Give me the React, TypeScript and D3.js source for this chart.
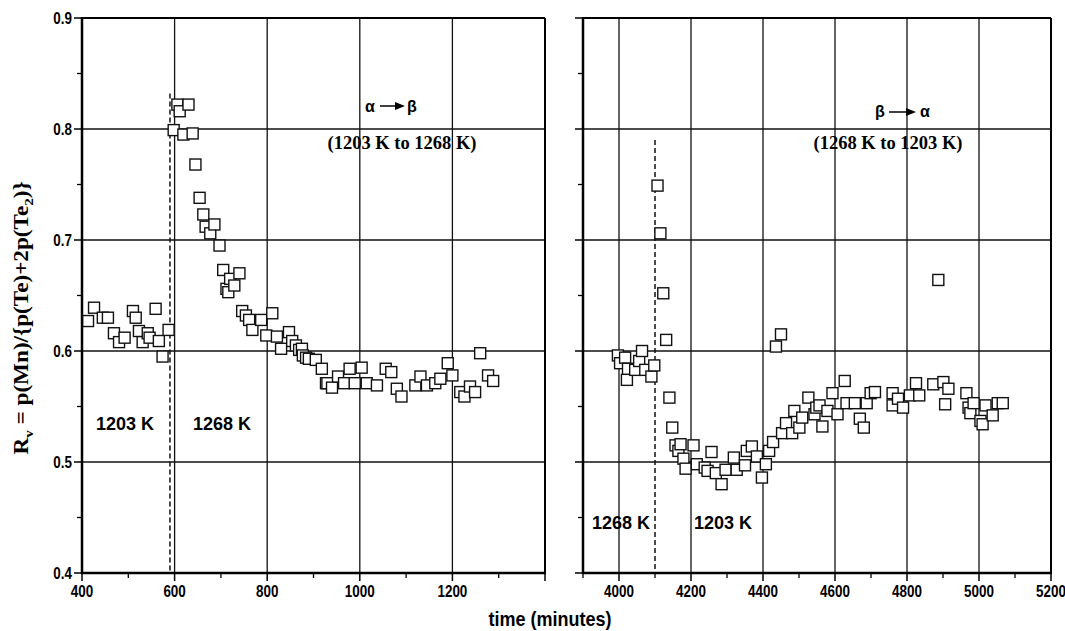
import React from "react";
import * as d3 from "d3";

// ---------- data ----------
const leftTime = [413,426,445,456,469,480,492,510,516,523,531,542,546,559,566,574,587,
598,606,611,619,630,639,645,654,662,667,677,686,697,705,712,716,720,729,740,746,754,761,768,787,798,811,821,830,847,854,862,869,875,877,884,890,905,918,927,930,940,953,966,978,989,1004,1015,1037,1056,1068,1080,1090,1120,1131,1145,1163,1174,1190,1200,1217,1226,1238,1249,1260,1277,1288];
const leftRv = [0.627,0.639,0.630,0.630,0.616,0.608,0.612,0.636,0.630,0.618,0.608,0.616,0.612,0.638,0.609,0.595,0.619,
0.799,0.822,0.816,0.795,0.822,0.796,0.768,0.738,0.723,0.712,0.706,0.714,0.695,0.673,0.656,0.653,0.665,0.659,0.670,0.636,0.632,0.628,0.619,0.628,0.614,0.634,0.613,0.602,0.617,0.609,0.605,0.601,0.602,0.596,0.594,0.593,0.592,0.584,0.571,0.571,0.567,0.577,0.571,0.584,0.571,0.585,0.571,0.569,0.584,0.581,0.566,0.559,0.569,0.577,0.569,0.571,0.575,0.589,0.578,0.563,0.559,0.568,0.563,0.598,0.578,0.573];

const rightTime = [3997,4003,4017,4022,4025,4045,4056,4064,4073,4090,4098,4107,4115,4123,4131,4140,4148,4157,4165,4171,4179,4185,4207,4216,4238,4246,4257,4269,4285,4296,4319,4327,4350,4355,4369,4383,4397,4408,4417,4428,4436,4450,4453,4464,4481,4487,4501,4509,4526,4543,4548,4557,4565,4579,4593,4607,4627,4632,4655,4669,4680,4688,4699,4711,4760,4760,4775,4789,4808,4825,4834,4873,4887,4901,4906,4915,4965,4971,4976,4985,5004,5010,5018,5038,5052,5066];
const rightRv = [0.596,0.589,0.594,0.574,0.584,0.583,0.591,0.600,0.583,0.577,0.587,0.749,0.706,0.652,0.610,0.558,0.531,0.515,0.510,0.516,0.503,0.494,0.515,0.498,0.495,0.492,0.509,0.490,0.480,0.493,0.504,0.493,0.497,0.510,0.514,0.505,0.486,0.498,0.510,0.518,0.604,0.615,0.526,0.535,0.526,0.546,0.531,0.540,0.558,0.543,0.549,0.551,0.532,0.546,0.562,0.543,0.573,0.553,0.553,0.539,0.531,0.553,0.562,0.563,0.562,0.551,0.557,0.549,0.560,0.571,0.560,0.570,0.664,0.572,0.552,0.566,0.562,0.549,0.544,0.553,0.537,0.534,0.551,0.542,0.553,0.553];

const leftDomain = [400, 1400];
const rightDomain = [3900, 5200];
const yDomain = [0.4, 0.9];
const leftTickLabels = [400, 600, 800, 1000, 1200];
const rightTickLabels = [4000, 4200, 4400, 4600, 4800, 5000, 5200];
const yTickLabels = [0.4, 0.5, 0.6, 0.7, 0.8, 0.9];
const leftDashed = { t: 590, top: 0.832 };
const rightDashed = { t: 4100, top: 0.79 };

const W = 1065, H = 631;
const TOP = 18, BOTTOM = 573;
const sans = "'Liberation Sans',Arial,sans-serif";
const serif = "'Liberation Serif','Times New Roman',serif";

const y = d3.scaleLinear().domain(yDomain).range([BOTTOM, TOP]);

function NText({ x, y: yy, anchor, size, children, sx = 0.84 }) {
  return (
    <text transform={`translate(${x},${yy}) scale(${sx},1)`} textAnchor={anchor} fontFamily={sans} fontWeight="bold" fontSize={size} fill="#000">
      {children}
    </text>
  );
}

function Panel({ domain, range, times, vals, labels, showY, dashed }) {
  const x = d3.scaleLinear().domain(domain).range(range);
  const [x0, x1] = range;
  const majorX = d3.range(Math.ceil(domain[0] / 200) * 200, domain[1] + 1, 200);
  const minorX = d3.range(Math.ceil(domain[0] / 100) * 100, domain[1] + 1, 100).filter((v) => v % 200 !== 0);
  const majorY = yTickLabels;
  const minorY = d3.range(0.45, 0.9, 0.1);
  const sz = 11;
  return (
    <g>
      {majorX.filter((v) => x(v) > x0 + 2 && x(v) < x1 - 2).map((v) => (
        <line key={"gx" + v} x1={x(v)} x2={x(v)} y1={TOP} y2={BOTTOM} stroke="#111" strokeWidth={1.3} />
      ))}
      {majorY.filter((v) => v > 0.4 && v < 0.9).map((v) => (
        <line key={"gy" + v} x1={x0} x2={x1} y1={y(v)} y2={y(v)} stroke="#111" strokeWidth={1.3} />
      ))}
      <line x1={x(dashed.t)} x2={x(dashed.t)} y1={y(dashed.top)} y2={BOTTOM} stroke="#111" strokeWidth={1.5} strokeDasharray="5,3" />
      {times.map((t, i) => (
        <rect key={"p" + i} x={x(t) - sz / 2} y={y(vals[i]) - sz / 2} width={sz} height={sz} fill="#fff" stroke="#111" strokeWidth={1.4} />
      ))}
      <line x1={x0} x2={x1} y1={TOP} y2={TOP} stroke="#000" strokeWidth={2} />
      <line x1={x1} x2={x1} y1={TOP} y2={BOTTOM} stroke="#000" strokeWidth={2} />
      <line x1={x0} x2={x0} y1={TOP - 1} y2={BOTTOM + 1} stroke="#000" strokeWidth={2.5} />
      <line x1={x0 - 1} x2={x1 + 1} y1={BOTTOM} y2={BOTTOM} stroke="#000" strokeWidth={2.5} />
      {majorX.map((v) => (
        <line key={"tx" + v} x1={x(v)} x2={x(v)} y1={BOTTOM} y2={BOTTOM + 8} stroke="#000" strokeWidth={1.5} />
      ))}
      {minorX.map((v) => (
        <line key={"mx" + v} x1={x(v)} x2={x(v)} y1={BOTTOM} y2={BOTTOM + 5} stroke="#000" strokeWidth={1.3} />
      ))}
      {labels.map((v) => (
        <NText key={"lx" + v} x={x(v)} y={BOTTOM + 24} anchor="middle" size={16}>{v}</NText>
      ))}
      {majorY.map((v) => (
        <line key={"ty" + v} x1={x0 - 8} x2={x0} y1={y(v)} y2={y(v)} stroke="#000" strokeWidth={1.5} />
      ))}
      {minorY.map((v) => (
        <line key={"my" + v} x1={x0 - 5} x2={x0} y1={y(v)} y2={y(v)} stroke="#000" strokeWidth={1.3} />
      ))}
      {showY && majorY.map((v) => (
        <NText key={"ly" + v} x={x0 - 10} y={y(v) + 6} anchor="end" size={16}>{v.toFixed(1)}</NText>
      ))}
    </g>
  );
}

function Arrow({ x1, x2, yy }) {
  return (
    <g>
      <line x1={x1} x2={x2 - 8} y1={yy} y2={yy} stroke="#000" strokeWidth={1.5} />
      <path d={`M${x2 - 10},${yy - 4} L${x2},${yy} L${x2 - 10},${yy + 4} Z`} fill="#000" />
    </g>
  );
}

export default function App() {
  return (
    <svg width={W} height={H} style={{ position: "absolute", left: 0, top: 0, background: "#fff" }}>
      <rect width={W} height={H} fill="#fff" />
      <Panel domain={leftDomain} range={[82, 545]} times={leftTime} vals={leftRv} labels={leftTickLabels} showY={true} dashed={leftDashed} />
      <Panel domain={rightDomain} range={[583, 1051]} times={rightTime} vals={rightRv} labels={rightTickLabels} showY={false} dashed={rightDashed} />

      <text transform="translate(28,318) rotate(-90) scale(1.16,1)" textAnchor="middle" fontFamily={serif} fontWeight="bold" fontSize={20} fill="#000">
        R<tspan fontSize={13} dy={5}>v</tspan><tspan dy={-5}> = p(Mn)/{"{"}p(Te)+2p(Te</tspan><tspan fontSize={13} dy={5}>2</tspan><tspan dy={-5}>){"}"}</tspan>
      </text>
      <NText x={550} y={626} anchor="middle" size={20} sx={0.9}>time (minutes)</NText>

      <text x={370} y={112} textAnchor="middle" fontFamily={sans} fontWeight="bold" fontSize={16} fill="#000">α</text>
      <Arrow x1={380} x2={405} yy={106} />
      <text x={412} y={112} textAnchor="middle" fontFamily={sans} fontWeight="bold" fontSize={16} fill="#000">β</text>
      <text x={402} y={149} textAnchor="middle" fontFamily={serif} fontWeight="bold" fontSize={18.5} fill="#000">(1203 K to 1268 K)</text>
      <text x={125} y={430} textAnchor="middle" fontFamily={sans} fontWeight="bold" fontSize={18} fill="#000">1203 K</text>
      <text x={222} y={430} textAnchor="middle" fontFamily={sans} fontWeight="bold" fontSize={18} fill="#000">1268 K</text>

      <text x={880} y={117} textAnchor="middle" fontFamily={sans} fontWeight="bold" fontSize={16} fill="#000">β</text>
      <Arrow x1={889} x2={916} yy={112} />
      <text x={925} y={117} textAnchor="middle" fontFamily={sans} fontWeight="bold" fontSize={16} fill="#000">α</text>
      <text x={888} y={149} textAnchor="middle" fontFamily={serif} fontWeight="bold" fontSize={18.5} fill="#000">(1268 K to 1203 K)</text>
      <text x={621} y={529} textAnchor="middle" fontFamily={sans} fontWeight="bold" fontSize={18} fill="#000">1268 K</text>
      <text x={723} y={529} textAnchor="middle" fontFamily={sans} fontWeight="bold" fontSize={18} fill="#000">1203 K</text>
    </svg>
  );
}
